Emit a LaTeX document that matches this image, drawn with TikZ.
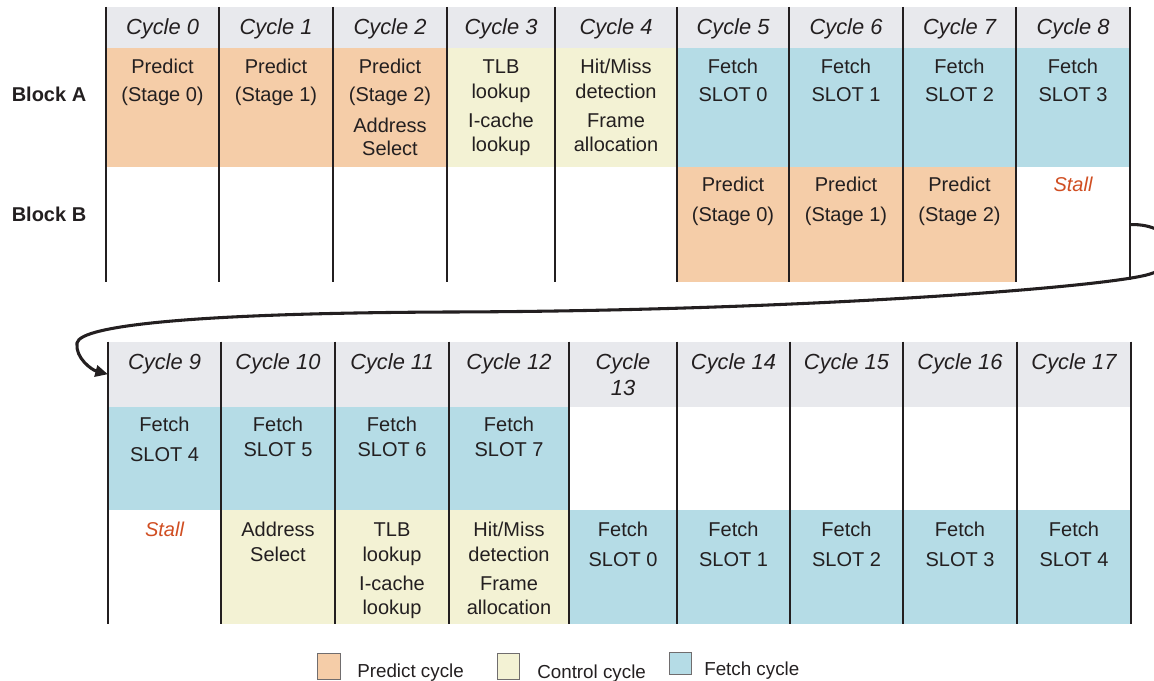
\documentclass[tikz,border=0pt]{standalone}
\usepackage{fontspec}
\setmainfont{Liberation Sans}
\usetikzlibrary{fit,arrows.meta}

\definecolor{ink}{HTML}{231F20}
\definecolor{predictc}{HTML}{F5CDA8}
\definecolor{controlc}{HTML}{F3F2D4}
\definecolor{fetchc}{HTML}{B5DCE6}
\definecolor{headc}{HTML}{E8E9ED}
\definecolor{stallc}{HTML}{D04E22}

\tikzset{
  cellbox/.style={inner sep=0pt, outer sep=0pt, draw=none},
  celltext/.style={anchor=base, inner sep=0pt, text=ink, font=\fontsize{15}{18}\selectfont},
  headtext/.style={celltext, font=\fontsize{16.4}{19}\selectfont\itshape},
  blocktext/.style={celltext, font=\fontsize{15}{18}\selectfont\bfseries},
  stalltext/.style={celltext, text=stallc, font=\fontsize{15}{18}\selectfont\itshape},
  legtext/.style={anchor=base west, inner sep=0pt, text=ink, font=\fontsize{14.1}{17}\selectfont},
  legsq/.style={draw=ink!65, line width=0.6pt},
  gridline/.style={draw=ink, line width=2.2pt},
  loopflow/.style={draw=ink, line width=2.3pt, -{Triangle[length=9.5pt,width=8.5pt]}},
}

% one line of cell text, placed on its baseline
\newcommand\celltxt[5][celltext]{\node[#1] (#2) at (#3,#4) {#5};}

\begin{document}
\begin{tikzpicture}[x=0.75pt, y=-0.75pt]
\useasboundingbox (0,0) rectangle (1154,681);
\clip (0,0) rectangle (1154,681);

% ---------------- first block of cycles (0-8) ----------------
\foreach \n/\l/\r in {0/106/219, 1/219/333, 2/333/447, 3/447/555, 4/555/677,
                      5/677/789, 6/789/903, 7/903/1016, 8/1016/1130} {
  \node[cellbox, fill=headc, fit={(\l,7) (\r,47.7)}] (h\n) {};
  \node[headtext] (ht\n) at ({(\l+\r)/2},35) {Cycle \n};
}
% block A row
\foreach \n/\l/\r/\c in {0/106/219/predictc, 1/219/333/predictc, 2/333/447/predictc,
                         3/447/555/controlc, 4/555/677/controlc,
                         5/677/789/fetchc, 6/789/903/fetchc, 7/903/1016/fetchc, 8/1016/1130/fetchc} {
  \node[cellbox, fill=\c, fit={(\l,47.7) (\r,166.7)}] (a\n) {};
}
% block B row
\foreach \n/\l/\r/\c in {0/106/219/white, 1/219/333/white, 2/333/447/white,
                         3/447/555/white, 4/555/677/white,
                         5/677/789/predictc, 6/789/903/predictc, 7/903/1016/predictc, 8/1016/1130/white} {
  \node[cellbox, fill=\c, fit={(\l,166.7) (\r,282.5)}] (b\n) {};
}

\celltxt[blocktext]{blkA}{49}{101.7}{Block A}
\celltxt[blocktext]{blkB}{49}{221.7}{Block B}

\celltxt{a0t1}{162.5}{73.3}{Predict}
\celltxt{a0t2}{162.5}{102}{(Stage 0)}
\celltxt{a1t1}{276}{73.3}{Predict}
\celltxt{a1t2}{276}{102}{(Stage 1)}
\celltxt{a2t1}{390}{73.3}{Predict}
\celltxt{a2t2}{390}{102}{(Stage 2)}
\celltxt{a2t3}{390}{132.3}{Address}
\celltxt{a2t4}{390}{155.7}{Select}
\celltxt{a3t1}{501}{73.3}{TLB}
\celltxt{a3t2}{501}{99}{lookup}
\celltxt{a3t3}{501}{127.7}{I-cache}
\celltxt{a3t4}{501}{151.3}{lookup}
\celltxt{a4t1}{616}{73.3}{Hit/Miss}
\celltxt{a4t2}{616}{99}{detection}
\celltxt{a4t3}{616}{127.7}{Frame}
\celltxt{a4t4}{616}{151.3}{allocation}
\celltxt{a5t1}{733}{73.3}{Fetch}
\celltxt{a5t2}{733}{102}{SLOT 0}
\celltxt{a6t1}{846}{73.3}{Fetch}
\celltxt{a6t2}{846}{102}{SLOT 1}
\celltxt{a7t1}{959.5}{73.3}{Fetch}
\celltxt{a7t2}{959.5}{102}{SLOT 2}
\celltxt{a8t1}{1073}{73.3}{Fetch}
\celltxt{a8t2}{1073}{102}{SLOT 3}

\celltxt{b5t1}{733}{191.7}{Predict}
\celltxt{b5t2}{733}{221.7}{(Stage 0)}
\celltxt{b6t1}{846}{191.7}{Predict}
\celltxt{b6t2}{846}{221.7}{(Stage 1)}
\celltxt{b7t1}{959.5}{191.7}{Predict}
\celltxt{b7t2}{959.5}{221.7}{(Stage 2)}
\celltxt[stalltext]{b8t1}{1073}{191.7}{Stall}

\foreach \x in {106,219,333,447,555,677,789,903,1016}
  \draw[gridline] (\x,7) -- (\x,282.5);
\draw[gridline] (1130,7) -- (1130,280);

% ---------------- second block of cycles (9-17) ----------------
\foreach \n/\l/\r in {9/108/221, 10/221/335, 11/335/449, 12/449/569, 13/569/677,
                      14/677/790, 15/790/903, 16/903/1017, 17/1017/1131} {
  \node[cellbox, fill=headc, fit={(\l,341.5) (\r,407)}] (h\n) {};
}
\foreach \n/\l/\r in {9/108/221, 10/221/335, 11/335/449, 12/449/569,
                      14/677/790, 15/790/903, 16/903/1017, 17/1017/1131} {
  \node[headtext] (ht\n) at ({(\l+\r)/2},369.3) {Cycle \n};
}
\celltxt[headtext]{ht13a}{623}{369.3}{Cycle}
\celltxt[headtext]{ht13b}{623}{395}{13}

\foreach \n/\l/\r/\c in {9/108/221/fetchc, 10/221/335/fetchc, 11/335/449/fetchc, 12/449/569/fetchc,
                         13/569/677/white, 14/677/790/white, 15/790/903/white, 16/903/1017/white, 17/1017/1131/white} {
  \node[cellbox, fill=\c, fit={(\l,407) (\r,510)}] (c\n) {};
}
\foreach \n/\l/\r/\c in {9/108/221/white, 10/221/335/controlc, 11/335/449/controlc, 12/449/569/controlc,
                         13/569/677/fetchc, 14/677/790/fetchc, 15/790/903/fetchc, 16/903/1017/fetchc, 17/1017/1131/fetchc} {
  \node[cellbox, fill=\c, fit={(\l,510) (\r,624)}] (d\n) {};
}

\celltxt{c9t1}{164.5}{431.7}{Fetch}
\celltxt{c9t2}{164.5}{461.7}{SLOT 4}
\celltxt{c10t1}{278}{431.7}{Fetch}
\celltxt{c10t2}{278}{456.7}{SLOT 5}
\celltxt{c11t1}{392}{431.7}{Fetch}
\celltxt{c11t2}{392}{456.7}{SLOT 6}
\celltxt{c12t1}{509}{431.7}{Fetch}
\celltxt{c12t2}{509}{456.7}{SLOT 7}

\celltxt[stalltext]{d9t1}{164.5}{536}{Stall}
\celltxt{d10t1}{278}{536.7}{Address}
\celltxt{d10t2}{278}{561.7}{Select}
\celltxt{d11t1}{392}{536.5}{TLB}
\celltxt{d11t2}{392}{561.7}{lookup}
\celltxt{d11t3}{392}{590}{I-cache}
\celltxt{d11t4}{392}{614}{lookup}
\celltxt{d12t1}{509}{536.7}{Hit/Miss}
\celltxt{d12t2}{509}{561.7}{detection}
\celltxt{d12t3}{509}{590}{Frame}
\celltxt{d12t4}{509}{614}{allocation}
\celltxt{d13t1}{623}{536.7}{Fetch}
\celltxt{d13t2}{623}{566.7}{SLOT 0}
\celltxt{d14t1}{733.5}{536.7}{Fetch}
\celltxt{d14t2}{733.5}{566.7}{SLOT 1}
\celltxt{d15t1}{846.5}{536.7}{Fetch}
\celltxt{d15t2}{846.5}{566.7}{SLOT 2}
\celltxt{d16t1}{960}{536.7}{Fetch}
\celltxt{d16t2}{960}{566.7}{SLOT 3}
\celltxt{d17t1}{1074}{536.7}{Fetch}
\celltxt{d17t2}{1074}{566.7}{SLOT 4}

\foreach \x in {108,221,335,449,569,677,790,903,1017,1131}
  \draw[gridline] (\x,341.5) -- (\x,624);

% ---------------- wrap-around from cycle 8 to cycle 9 ----------------
\draw[loopflow] (b8.east)
  .. controls (1175,223) and (1190,262) .. (1150,274)
  .. controls (1110,287) and (800,311) .. (450,312)
  .. controls (200,313) and (80,325) .. (77,343)
  .. controls (75,358) and (92,370) .. (h9.west);

% ---------------- legend ----------------
\node[cellbox, legsq, fill=predictc, fit={(317,653) (340,679)}] (lgp) {};
\node[cellbox, legsq, fill=controlc, fit={(497,653) (519,679)}] (lgc) {};
\node[cellbox, legsq, fill=fetchc, fit={(669,652) (691,674)}] (lgf) {};
\node[legtext] (lgpt) at (357,677.5) {Predict cycle};
\node[legtext] (lgct) at (537,678) {Control cycle};
\node[legtext] (lgft) at (704,675) {Fetch cycle};
\end{tikzpicture}
\end{document}
